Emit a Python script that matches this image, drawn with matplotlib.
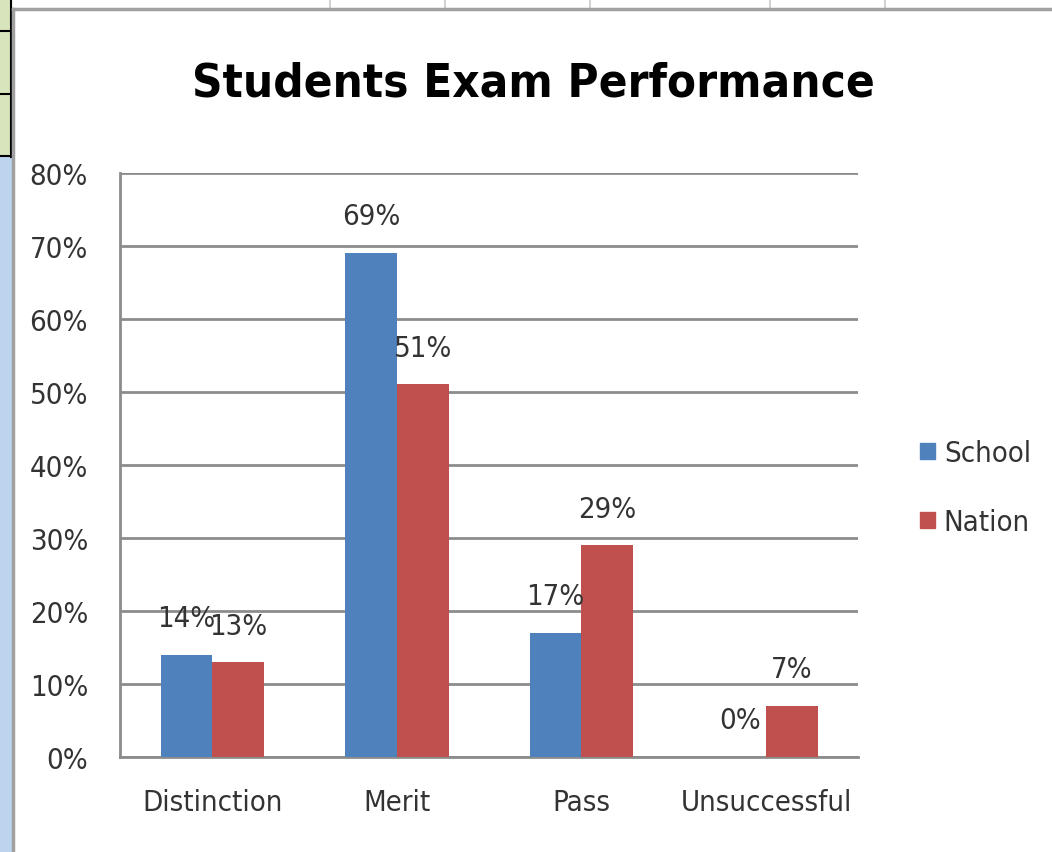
import matplotlib
matplotlib.use("Agg")
import matplotlib.pyplot as plt
import numpy as np
from matplotlib.patches import Rectangle
from matplotlib.lines import Line2D

# -------- data --------
categories = ["Distinction", "Merit", "Pass", "Unsuccessful"]
school = [14, 69, 17, 0]
nation = [13, 51, 29, 7]
y_ticks = [0, 10, 20, 30, 40, 50, 60, 70, 80]

BLUE = "#4f81bd"
RED = "#c0504d"
GRID = "#8c8c8c"
TXT = "#333333"

plt.rcParams["font.family"] = ["DejaVu Sans"]
plt.rcParams["font.stretch"] = "condensed"

fig = plt.figure(figsize=(10.52, 8.53), dpi=100)
ax = fig.add_axes([0.114, 0.1114, 0.702, 0.685])

x = np.arange(len(categories))
w = 0.28
b1 = ax.bar(x - w / 2, school, w, color=BLUE, zorder=3)
b2 = ax.bar(x + w / 2, nation, w, color=RED, zorder=3)

ax.set_xlim(-0.5, 3.5)
ax.set_ylim(0, 80)
ax.set_yticks(y_ticks)
ax.set_yticklabels([f"{t}%" for t in y_ticks], fontsize=21, color=TXT)
ax.set_xticks(x)
ax.set_xticklabels(categories, fontsize=21, color=TXT)
ax.tick_params(axis="y", length=0, pad=23)
ax.tick_params(axis="x", length=0, pad=22)
ax.grid(axis="y", color=GRID, lw=2, zorder=0)
for s in ["top", "right"]:
    ax.spines[s].set_visible(False)
for s in ["left", "bottom"]:
    ax.spines[s].set_color(GRID)
    ax.spines[s].set_linewidth(2)

# data labels above bars
for bars, vals in [(b1, school), (b2, nation)]:
    for rect, v in zip(bars, vals):
        ax.text(rect.get_x() + rect.get_width() / 2, v + 5.0, f"{v}%",
                ha="center", va="center", fontsize=21, color=TXT, zorder=4)

fig.text(0.507, 0.902, "Students Exam Performance", ha="center", va="center",
         fontsize=34, fontweight="bold", color="black")

handles = [Rectangle((0, 0), 1, 1, color=BLUE), Rectangle((0, 0), 1, 1, color=RED)]
fig.legend(handles, ["School", "Nation"], loc="center left",
           bbox_to_anchor=(0.85, 0.427), frameon=False, fontsize=21,
           handlelength=0.5, handleheight=0.5, handletextpad=0.3,
           labelspacing=1.4, labelcolor=TXT)

# spreadsheet bits around the chart object
fig.add_artist(Rectangle((0, 0.815), 0.0105, 0.185, transform=fig.transFigure,
                         color="#d8e4bc", zorder=0))
fig.add_artist(Rectangle((0, 0), 0.0105, 0.815, transform=fig.transFigure,
                         color="#bcd4ee", zorder=0))
for yy in [0.962, 0.889, 0.816]:
    fig.add_artist(Line2D([0, 0.0105], [yy, yy], color="black", lw=1.5))
fig.add_artist(Line2D([0.0105, 0.0105], [0.815, 1.0], color="black", lw=1.5))
for xx in [0.314, 0.423, 0.561, 0.732, 0.841]:
    fig.add_artist(Line2D([xx, xx], [0.988, 1.0], color="#c8c8c8", lw=1.2))

# chart frame
fig.add_artist(Line2D([0.0124, 1.0], [0.988, 0.988], color="#a0a0a0", lw=2.5))
fig.add_artist(Line2D([0.0124, 0.0124], [0.0, 0.988], color="#a0a0a0", lw=2.5))

fig.savefig("out.png", dpi=100)
